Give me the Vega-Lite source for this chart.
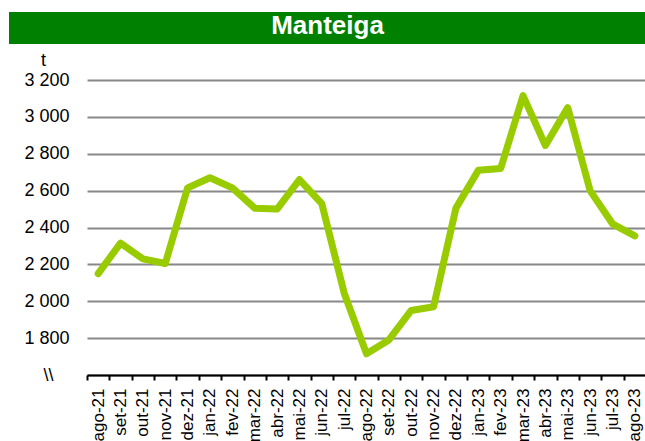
{
  "$schema": "https://vega.github.io/schema/vega-lite/v6.json",
  "padding": {"left": 8, "top": 12, "right": 0, "bottom": 0},
  "background": "white",
  "config": {"view": {"stroke": null}, "font": "Liberation Sans"},
  "columns": 1,
  "spacing": 7,
  "datasets": {
    "butter": [
      {"month": "ago-21", "t": 2150},
      {"month": "set-21", "t": 2315},
      {"month": "out-21", "t": 2230},
      {"month": "nov-21", "t": 2205},
      {"month": "dez-21", "t": 2615},
      {"month": "jan-22", "t": 2670},
      {"month": "fev-22", "t": 2615},
      {"month": "mar-22", "t": 2505},
      {"month": "abr-22", "t": 2500},
      {"month": "mai-22", "t": 2660},
      {"month": "jun-22", "t": 2530},
      {"month": "jul-22", "t": 2045},
      {"month": "ago-22", "t": 1715},
      {"month": "set-22", "t": 1790},
      {"month": "out-22", "t": 1950},
      {"month": "nov-22", "t": 1970},
      {"month": "dez-22", "t": 2505},
      {"month": "jan-23", "t": 2710},
      {"month": "fev-23", "t": 2720},
      {"month": "mar-23", "t": 3115},
      {"month": "abr-23", "t": 2845},
      {"month": "mai-23", "t": 3050},
      {"month": "jun-23", "t": 2600},
      {"month": "jul-23", "t": 2420},
      {"month": "ago-23", "t": 2355}
    ]
  },
  "concat": [
    {
      "width": 559,
      "height": 32,
      "data": {"values": [{"title": "Manteiga"}]},
      "layer": [
        {
          "mark": {"type": "rect", "color": "#008000"},
          "encoding": {
            "x": {"datum": 0, "type": "quantitative", "scale": {"domain": [0.12245, 1], "nice": false, "zero": false}, "axis": null},
            "x2": {"datum": 1}
          }
        },
        {
          "mark": {"type": "text", "color": "white", "fontWeight": "bold", "fontSize": 26, "font": "Liberation Sans", "baseline": "middle", "dy": -2},
          "encoding": {
            "x": {"datum": 0.5, "type": "quantitative"},
            "text": {"field": "title", "type": "nominal"}
          }
        }
      ]
    },
    {
      "width": 559,
      "height": 295,
      "data": {"name": "butter"},
      "mark": {"type": "line", "color": "#99cc00", "strokeWidth": 7, "strokeCap": "round", "strokeJoin": "round"},
      "encoding": {
        "x": {
          "field": "month",
          "type": "nominal",
          "sort": null,
          "bandPosition": 0.5,
          "scale": {"type": "band", "paddingInner": 0, "paddingOuter": 0},
          "axis": {
            "title": null,
            "labelAngle": -90,
            "labelAlign": "right",
            "labelBaseline": "middle",
            "labelPadding": 8,
            "labelFontSize": 17,
            "labelColor": "black",
            "labelOverlap": false,
            "domainColor": "black",
            "domainWidth": 2,
            "tickColor": "black",
            "tickWidth": 2,
            "tickSize": 5,
            "tickBand": "extent",
            "grid": false
          }
        },
        "y": {
          "field": "t",
          "type": "quantitative",
          "scale": {"domain": [1600, 3200], "nice": false, "zero": false},
          "axis": {
            "title": "t",
            "titleAngle": 0,
            "titleX": -44,
            "titleY": -15,
            "titleAlign": "center",
            "titleBaseline": "alphabetic",
            "titleFontSize": 18,
            "titleFontWeight": "normal",
            "titleColor": "black",
            "values": [1600, 1800, 2000, 2200, 2400, 2600, 2800, 3000, 3200],
            "labelExpr": "datum.value == 1600 ? '\\\\\\\\' : replace(format(datum.value, ','), ',', ' ')",
            "labelFontSize": 18,
            "labelColor": "black",
            "labelPadding": {"condition": {"test": "datum.value == 1600", "value": 34}, "value": 18},
            "labelBaseline": "middle",
            "ticks": false,
            "domain": false,
            "grid": true,
            "gridColor": "#888888",
            "gridWidth": 2
          }
        }
      }
    }
  ]
}
